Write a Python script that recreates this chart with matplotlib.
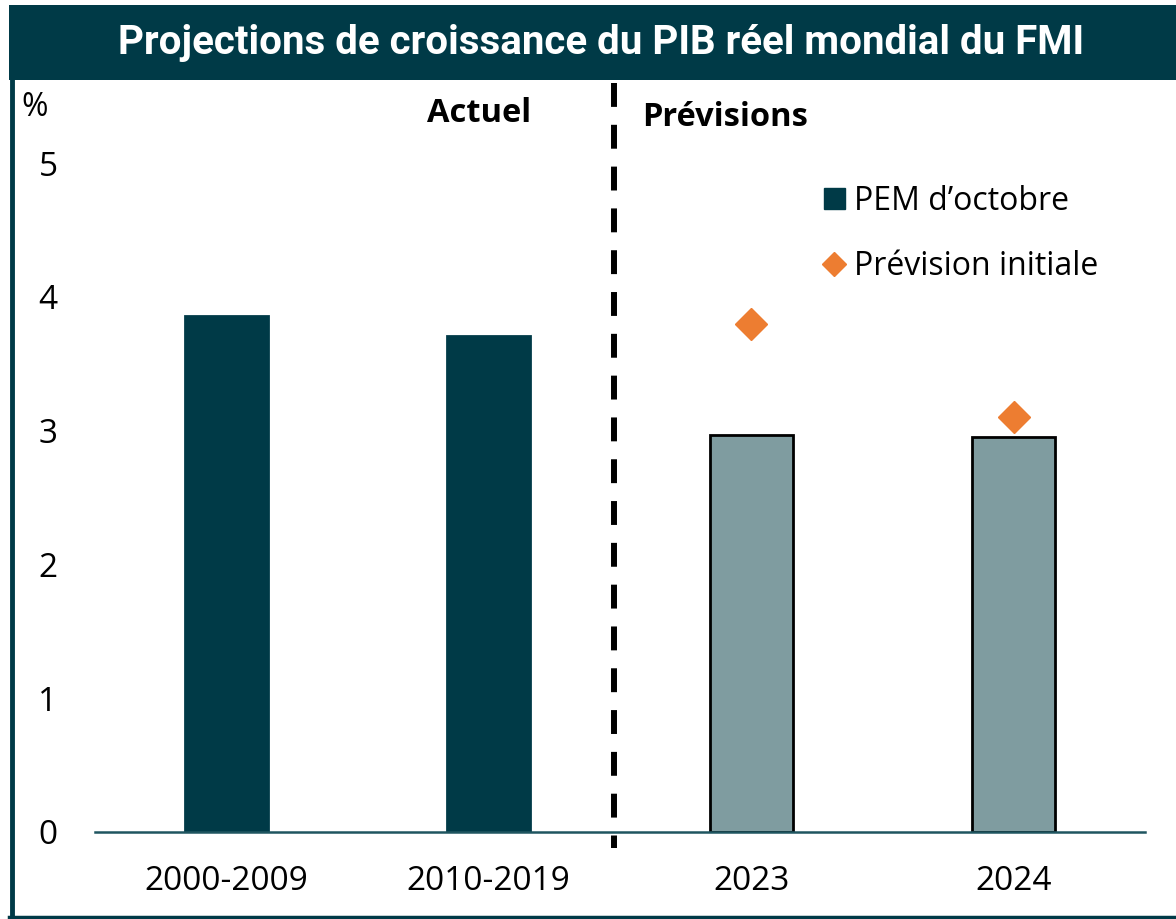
import numpy as np
import matplotlib.pyplot as plt
from matplotlib.patches import Rectangle, Patch
from matplotlib.lines import Line2D

categories = ['2000-2009', '2010-2019', '2023', '2024']
pem_octobre = [3.86, 3.71, 2.97, 2.95]
prev_cats = ['2023', '2024']
prevision_initiale = [3.8, 3.1]

dark = '#003A47'
light = '#7F9CA0'
orange = '#ED7D31'

plt.rcParams['font.family'] = ['Open Sans', 'DejaVu Sans']

fig = plt.figure(figsize=(11.76, 9.19), dpi=100)
W, H = 1176, 919

# bandeau titre + bordure
fig.patches.append(Rectangle((9 / W, 1 - 80 / H), 1 - 9 / W, 75 / H, transform=fig.transFigure,
                             facecolor=dark, edgecolor='none', zorder=0))
fig.lines.append(Line2D([11.5 / W, 11.5 / W], [1 - 80 / H, 1 - 916.5 / H], transform=fig.transFigure,
                        color=dark, lw=3.5))
fig.lines.append(Line2D([9 / W, 1], [1 - 916.5 / H, 1 - 916.5 / H], transform=fig.transFigure,
                        color=dark, lw=2.5))
fig.text(601 / W, 1 - 43 / H, 'Projections de croissance du PIB réel mondial du FMI',
         ha='center', va='center', color='white', fontsize=29, fontweight='bold', family='Roboto')

ax = fig.add_axes([95 / W, 1 - 832 / H, 1050 / W, 749 / H])
x = np.arange(len(categories))
colors = [dark, dark, light, light]
edges = [dark, dark, 'black', 'black']
ax.bar(x, pem_octobre, width=0.316, color=colors, edgecolor=edges, linewidth=2, zorder=2)

xp = [categories.index(c) for c in prev_cats]
ax.plot(xp, prevision_initiale, linestyle='none', marker='D', markersize=16,
        color=orange, zorder=3)

ax.plot([1.477, 1.477], [5.6, -0.12], color='black', lw=4.3, dashes=(4, 3), clip_on=False, zorder=4)

ax.set_xlim(-0.5, 3.5)
ax.set_ylim(0, 5.6)
ax.set_xticks(x)
ax.set_xticklabels(categories, fontsize=24)
ax.set_yticks([0, 1, 2, 3, 4, 5])
ax.tick_params(axis='both', length=0, labelsize=24)
ax.tick_params(axis='y', pad=27)
ax.tick_params(axis='x', pad=24)
for s in ['top', 'right', 'left']:
    ax.spines[s].set_visible(False)
ax.spines['bottom'].set_color('#1F5560')
ax.spines['bottom'].set_linewidth(1.8)

fig.text(21 / W, 1 - 108 / H, '%', fontsize=23, va='center', ha='left')
ax.text(1.16, 5.37, 'Actuel', fontsize=23.5, fontweight='bold', ha='right', va='center')
ax.text(1.585, 5.34, 'Prévisions', fontsize=23.5, fontweight='bold', ha='left', va='center')

handles = [Patch(facecolor=dark, edgecolor=dark),
           Line2D([], [], linestyle='none', marker='D', markersize=12, color=orange)]
ax.legend(handles, ['PEM d’octobre', 'Prévision initiale'], loc='upper left',
          bbox_to_anchor=(811 / W, 1 - 172 / H), bbox_transform=fig.transFigure,
          frameon=False, fontsize=23, handlelength=0.65, handleheight=0.65,
          handletextpad=0.3, labelspacing=1.0, borderaxespad=0)

fig.savefig('out.png', dpi=100)
